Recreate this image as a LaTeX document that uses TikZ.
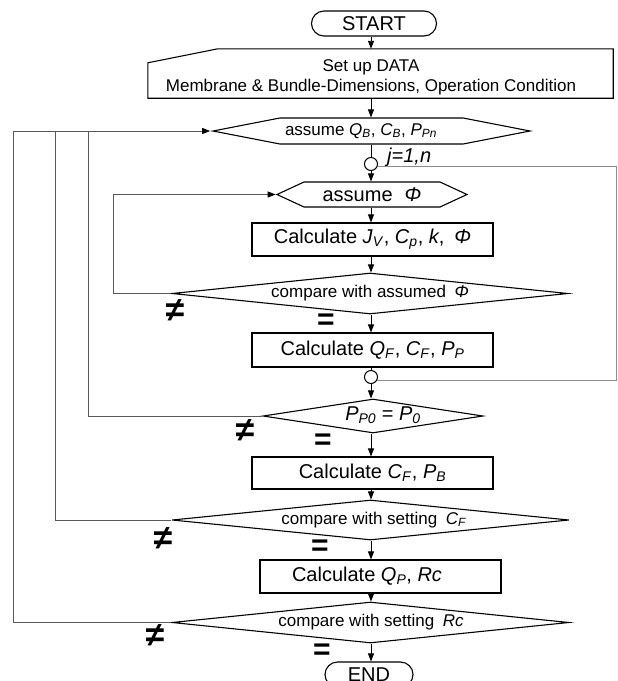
\documentclass[tikz,border=0pt]{standalone}
\usepackage{fontspec}
\setmainfont{Liberation Sans}
\usetikzlibrary{shapes.geometric,shapes.misc,shapes.symbols,arrows.meta}
\newcommand\iv[2]{\textit{#1}\textsubscript{\textit{#2}}}
\begin{document}
\begin{tikzpicture}[x=1pt,y=-1pt,
  shp/.style={draw=black,line width=1.1pt,inner sep=0pt},
  box/.style={shp,rectangle,minimum width=241pt},
  dia/.style={shp,diamond},
  hexa/.style={shp,signal,signal to=west and east},
  term/.style={shp,rounded rectangle,minimum height=25pt},
  ring/.style={draw,line width=1pt,circle,minimum size=13pt,inner sep=0pt},
  arr/.style={line width=0.9pt,-{Triangle[length=8pt,width=6pt]}},
  ln/.style={line width=0.9pt},
  fb/.style={line width=0.8pt,draw=black!65},
  fbarr/.style={fb,-{Triangle[length=8pt,width=6pt,color=black]}},
  loopl/.style={line width=0.8pt,draw=black!45},
  t17/.style={font=\fontsize{17}{20}\selectfont},
  t20/.style={font=\fontsize{20}{23}\selectfont},
  neq/.style={font=\fontsize{34}{34}\selectfont\bfseries,inner sep=0pt},
  eqs/.style={font=\fontsize{30}{30}\selectfont\bfseries,inner sep=0pt}
]
\clip (0,0) rectangle (618,681);
\fill[white] (0,0) rectangle (618,681);

\coordinate (sp) at (371,0);
\coordinate (R) at (616,0);
\coordinate (L1) at (113,0);
\coordinate (L2) at (88,0);
\coordinate (L3) at (55,0);
\coordinate (L4) at (13,0);

% terminals
\node[term,t20,minimum width=125pt] (start) at (374,23.5) {START};
\node[term,t20,minimum width=88pt] (end) at (369,674.5) {END};

% set up data (manual input)
\node[minimum width=465pt,minimum height=49pt,inner sep=0pt] (setup) at (380.5,73.5) {};
\draw[shp] ([yshift=-14pt]setup.north west) -- ([xshift=70pt]setup.north west)
  -- (setup.north east) -- (setup.south east) -- (setup.south west) -- cycle;
\node[t17,align=center] (setupt) at (371,77) {Set up DATA\\Membrane \& Bundle-Dimensions, Operation Condition};

% hexagons
\node[hexa,signal pointer angle=22,minimum width=317pt,minimum height=26pt] (h1) at (371.5,131) {};
\node[t17] (h1t) at (361,131) {assume \iv{Q}{B}, \iv{C}{B}, \iv{P}{Pn}};
\node[ring] (c1) at (371,164) {};
\node[font=\fontsize{20}{22}\selectfont,anchor=base west,inner sep=0pt] (jl) at (387,162) {\textit{j=1,n}};
\node[hexa,signal pointer angle=49.7,minimum width=190pt,minimum height=25pt] (h2) at (372,194.5) {};
\node[t20] (h2t) at (372,194.5) {assume\hspace{0.6em}\textit{Φ}};

% boxes and decisions
\node[box,t20,minimum height=33pt] (b1) at (372.5,239.5) {Calculate \iv{J}{V}, \iv{C}{p}, \textit{k},\hspace{0.5em}\textit{Φ}};
\node[dia,minimum width=396pt,minimum height=41pt] (d1) at (370,293.5) {};
\node[t17] (d1t) at (370,293.5) {compare with assumed\hspace{0.5em}\textit{Φ}};
\node[box,t20,minimum height=34pt] (b2) at (372.5,350) {Calculate \iv{Q}{F}, \iv{C}{F}, \iv{P}{P}};
\node[ring] (c2) at (371,377) {};
\node[dia,minimum width=220pt,minimum height=34pt] (d2) at (373,416) {};
\node[t20] (d2t) at (383,415) {\iv{P}{P0} = \iv{P}{0}};
\node[box,t20,minimum height=32pt] (b3) at (372.5,473) {Calculate \iv{C}{F}, \iv{P}{B}};
\node[dia,minimum width=397pt,minimum height=40pt] (d3) at (370.5,520) {};
\node[t17] (d3t) at (374,520) {compare with setting\hspace{0.5em}\iv{C}{F}};
\node[box,minimum height=33pt] (b4) at (380.5,576.5) {};
\node[t20] (b4t) at (367,576.5) {Calculate \iv{Q}{P}, \textit{Rc}};
\node[dia,minimum width=397pt,minimum height=41pt] (d4) at (370.5,622.5) {};
\node[t17] (d4t) at (371,622.5) {compare with setting\hspace{0.5em}\textit{Rc}};

% main spine
\draw[arr] (start.south -| sp) -- (setup.north -| sp);
\draw[arr] (setup.south -| sp) -- (h1.north -| sp);
\draw[ln] (h1.south -| sp) -- (c1.north);
\draw[arr] (c1.south) -- (h2.north -| sp);
\draw[arr] (h2.south -| sp) -- (b1.north -| sp);
\draw[arr] (b1.south -| sp) -- (d1.north -| sp);
\draw[arr] (d1.south -| sp) -- (b2.north -| sp);
\draw[ln] (b2.south -| sp) -- (c2.north);
\draw[arr] (c2.south) -- (d2.north -| sp);
\draw[arr] (d2.south -| sp) -- (b3.north -| sp);
\draw[arr] (b3.south -| sp) -- (d3.north -| sp);
\draw[arr] (d3.south -| sp) -- (b4.north -| sp);
\draw[arr] (b4.south -| sp) -- (d4.north -| sp);
\draw[arr] (d4.south -| sp) -- (end.north -| sp);

% j loop
\draw[loopl] (c1.-20) -- (c1.-20 -| R) -- (c2.-25 -| R) -- (c2.-25);

% feedback loops
\draw[fbarr] (d1.west) -- (d1.west -| L1) -- (h2.west -| L1) -- (h2.west);
\draw[fb] (d2.west) -- (d2.west -| L2) -- (h1.west -| L2);
\draw[fb] (d3.west) -- (d3.west -| L3) -- (h1.west -| L3);
\draw[fbarr] (d4.west) -- (d4.west -| L4) -- (h1.west -| L4) -- (h1.west);

% labels
\node[neq] (n1) at (175,311) {≠};
\node[neq] (n2) at (245,431) {≠};
\node[neq] (n3) at (163,539) {≠};
\node[neq] (n4) at (155,636) {≠};
\node[eqs] (e1) at (326,322) {=};
\node[eqs] (e2) at (323,442) {=};
\node[eqs] (e3) at (320,548) {=};
\node[eqs] (e4) at (322,652) {=};
\end{tikzpicture}
\end{document}
